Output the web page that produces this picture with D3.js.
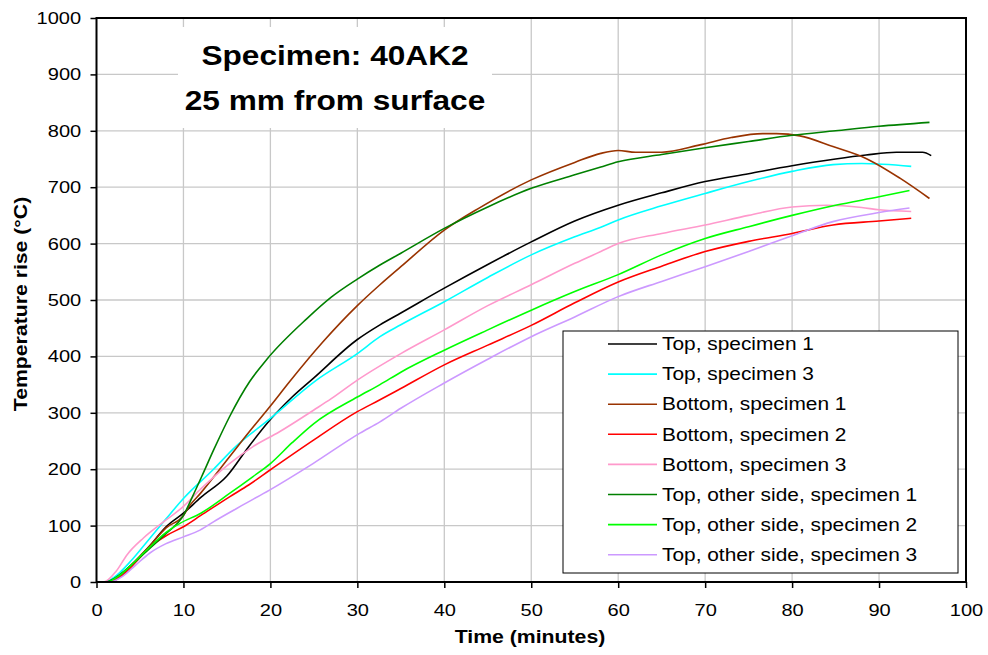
<html>
<head>
<meta charset="utf-8">
<script src="https://cdn.jsdelivr.net/npm/d3@7"></script>
<style>
body{margin:0;background:#fff;}
svg{display:block;font-family:"Liberation Sans",Arial,sans-serif;}
</style>
</head>
<body>
<div id="chart"></div>
<script>
// values: [time (min), temperature rise (°C)]
const topSpec1 = [[0,0],[1,0],[2,5],[4,30],[6,62],[8,98],[10,122],[12,150],[15,188],[17.5,240],[20,288],[22.5,328],[25,362],[30,430],[32.6,456],[35,477],[40,521],[45,563],[50,603],[55,640],[60,668],[65,690],[70,710],[75,724],[80,738],[85,750],[88.5,757],[92,762],[95,762],[96,756]];
const topSpec3 = [[0,0],[1,0],[2,8],[4,38],[6,75],[8,112],[10,148],[13.4,199],[16,240],[20,290],[25.3,358],[30,405],[32.6,435],[35,456],[40,497],[45,540],[50,580],[55,612],[58,629],[60,642],[65,667],[70,689],[75,710],[80,728],[84.7,740],[88,742],[93.7,737]];
const bottomSpec1 = [[0,0],[1.5,0],[2.5,8],[4,30],[6,62],[8,96],[10,118],[10.7,135],[12,158],[15.3,222],[17.5,265],[20,312],[22.2,355],[26,425],[30,490],[32.6,527],[35,559],[40,624],[44,663],[50,713],[55,744],[58,760],[60,765],[62,762],[65,762],[69.4,775],[73,788],[76.6,795],[78.2,795],[80.9,791],[84.7,772],[88.5,751],[92.4,716],[95.8,680]];
const bottomSpec2 = [[0,0],[1.5,0],[3,12],[4.5,35],[6,60],[8,82],[10,98],[12,118],[15.3,151],[17.5,172],[20,199],[25,252],[30,302],[32.6,323],[35,343],[40,385],[45,420],[50,455],[55,495],[60,532],[65,560],[70,586],[75,604],[80,618],[84.7,633],[90,640],[93.7,645]];
const bottomSpec3 = [[0,0],[0.8,0],[2.3,20],[3.5,48],[5.4,78],[8,110],[10,134],[12,165],[15.3,210],[18,240],[21,266],[25,305],[27,325],[30,358],[35,405],[40,447],[45,490],[50,527],[55,565],[58,586],[60,600],[65,618],[70,633],[75,650],[80,665],[84,668],[88,664],[90,660],[93.7,657]];
const otherSpec1 = [[0,0],[1,0],[2,6],[4,30],[6,58],[8,86],[10,118],[11,150],[12.1,187],[13.5,235],[15.3,293],[17.6,355],[19.6,395],[24.2,467],[27,505],[30,537],[32.6,562],[35,583],[40,627],[45,665],[50,698],[55,722],[58,736],[60,745],[65,758],[70,770],[75,781],[80,792],[85,800],[90,808],[95.8,815]];
const otherSpec2 = [[0,0],[1.2,0],[2.5,10],[4,30],[6,60],[8,88],[9.6,104],[12,122],[15.3,157],[18,187],[20,210],[22.5,247],[25,281],[30,328],[32.6,350],[35,372],[40,411],[45,447],[50,482],[55,515],[60,545],[65,580],[70,609],[75,630],[80,650],[85,668],[90,683],[93.5,694]];
const otherSpec3 = [[0,0],[1.5,0],[3,10],[4.5,30],[6.1,51],[8,68],[10,80],[11.9,92],[13.8,110],[17,138],[19.9,163],[24.9,210],[30.3,264],[32.6,284],[35,308],[39.9,352],[45,395],[50,435],[55,470],[60,506],[65,533],[70,559],[75,586],[80,614],[84.7,639],[90,655],[93.5,663]];

const seriesNames = ["Top, specimen 1","Top, specimen 3","Bottom, specimen 1","Bottom, specimen 2","Bottom, specimen 3","Top, other side, specimen 1","Top, other side, specimen 2","Top, other side, specimen 3"];
const seriesColors = ["#000000","#00ffff","#993300","#ff0000","#ff99cc","#008000","#00ff00","#cc99ff"];
const seriesData = [topSpec1, topSpec3, bottomSpec1, bottomSpec2, bottomSpec3, otherSpec1, otherSpec2, otherSpec3];

const xTicks = d3.range(0, 101, 10);
const yTicks = d3.range(0, 1001, 100);
const titleLines = ["Specimen: 40AK2", "25 mm from surface"];

const width = 988, height = 655;
const margin = {top:18, left:96.5, right:22, bottom:73};
const plotWidth = width - margin.left - margin.right;
const plotHeight = height - margin.top - margin.bottom;
const sx = 1.18; // text in the picture is drawn a bit wide

const x = d3.scaleLinear().domain([0,100]).range([0, plotWidth]);
const y = d3.scaleLinear().domain([0,1000]).range([plotHeight, 0]);

const svg = d3.select('#chart').append('svg')
  .attr('width', width)
  .attr('height', height);

const g = svg.append('g')
  .attr('transform', `translate(${margin.left},${margin.top})`);

// grid
g.append('g').selectAll('line.gx')
  .data(xTicks.slice(1, -1)).enter().append('line')
  .attr('x1', d=>x(d)).attr('x2', d=>x(d))
  .attr('y1', 0).attr('y2', plotHeight)
  .attr('stroke', '#c8c8c8').attr('stroke-width', 1.3);
g.append('g').selectAll('line.gy')
  .data(yTicks.slice(1, -1)).enter().append('line')
  .attr('x1', 0).attr('x2', plotWidth)
  .attr('y1', d=>y(d)).attr('y2', d=>y(d))
  .attr('stroke', '#c8c8c8').attr('stroke-width', 1.3);

// title box
svg.append('rect')
  .attr('x', 178).attr('y', 27).attr('width', 314).attr('height', 101)
  .attr('fill', '#fff');
svg.append('g').selectAll('text')
  .data(titleLines).enter().append('text')
  .attr('transform', (d,i)=>`translate(335,${65 + i*45}) scale(1.13,1)`)
  .attr('text-anchor', 'middle')
  .attr('font-size', 28).attr('font-weight', 'bold')
  .text(d=>d);

// lines
const line = d3.line()
  .x(d=>x(d[0]))
  .y(d=>y(d[1]))
  .curve(d3.curveMonotoneX);

g.append('g').selectAll('path')
  .data(seriesData).enter().append('path')
  .attr('d', line)
  .attr('fill', 'none')
  .attr('stroke', (d,i)=>seriesColors[i])
  .attr('stroke-width', 1.6);

// axes
const yAxis = g.append('g')
  .call(d3.axisLeft(y).tickValues(yTicks).tickFormat(d3.format('d')).tickSize(6).tickPadding(7));
const xAxis = g.append('g')
  .attr('transform', `translate(0,${plotHeight})`)
  .call(d3.axisBottom(x).tickValues(xTicks).tickFormat(d3.format('d')).tickSize(6).tickPadding(16));
[yAxis, xAxis].forEach(a=>{
  a.select('.domain').remove();
  a.selectAll('line').attr('stroke', '#000').attr('stroke-width', 1.5);
  a.selectAll('text')
    .attr('font-size', 17).attr('fill', '#000')
    .attr('font-family', '"Liberation Sans",Arial,sans-serif');
});
yAxis.selectAll('text').attr('transform', `scale(${sx},1)`);
xAxis.selectAll('text').attr('transform', `scale(${sx},1)`);

// frame
g.append('rect')
  .attr('width', plotWidth).attr('height', plotHeight)
  .attr('fill', 'none').attr('stroke', '#000').attr('stroke-width', 2);

// axis titles
svg.append('text')
  .attr('transform', `translate(530,643) scale(${sx},1)`)
  .attr('text-anchor', 'middle')
  .attr('font-size', 18).attr('font-weight', 'bold')
  .text('Time (minutes)');
svg.append('text')
  .attr('transform', `translate(27,304) rotate(-90) scale(${sx},1)`)
  .attr('text-anchor', 'middle')
  .attr('font-size', 18).attr('font-weight', 'bold')
  .text('Temperature rise (°C)');

// legend
const legend = svg.append('g');
legend.append('rect')
  .attr('x', 563).attr('y', 331).attr('width', 395).attr('height', 242)
  .attr('fill', '#fff').attr('stroke', '#000').attr('stroke-width', 1);
const rows = legend.selectAll('g.row')
  .data(seriesNames).enter().append('g')
  .attr('transform', (d,i)=>`translate(0,${344 + i*30.1})`);
rows.append('line')
  .attr('x1', 608).attr('x2', 657)
  .attr('stroke', (d,i)=>seriesColors[i]).attr('stroke-width', 1.6);
rows.append('text')
  .attr('transform', `translate(662,0) scale(${sx},1)`)
  .attr('dy', '0.35em')
  .attr('font-size', 17.7)
  .text(d=>d);
</script>
</body>
</html>
